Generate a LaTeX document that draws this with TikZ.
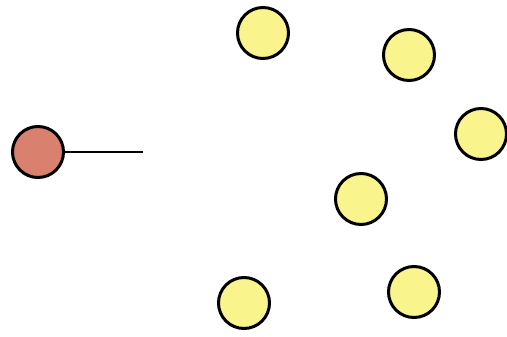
\documentclass[tikz,border=0pt]{standalone}
\definecolor{redfill}{HTML}{D9806E}
\definecolor{yelfill}{HTML}{F9F48C}
\begin{document}
\begin{tikzpicture}[x=1pt,y=-1pt,
  ball/.style={circle,draw=black,line width=3pt,minimum size=51pt,inner sep=0pt},
  redball/.style={ball,fill=redfill},
  yelball/.style={ball,fill=yelfill}]
\useasboundingbox (0,0) rectangle (507,337);
\node[redball] (r) at (38,152) {};
\coordinate (e) at (143,152);
\draw[line width=1.8pt] (r.east) -- (e);
\node[yelball] (y1) at (263,33) {};
\node[yelball] (y2) at (409,55) {};
\node[yelball] (y3) at (481,134) {};
\node[yelball] (y4) at (361,199) {};
\node[yelball] (y5) at (414,292) {};
\node[yelball] (y6) at (244,303) {};
\end{tikzpicture}
\end{document}
